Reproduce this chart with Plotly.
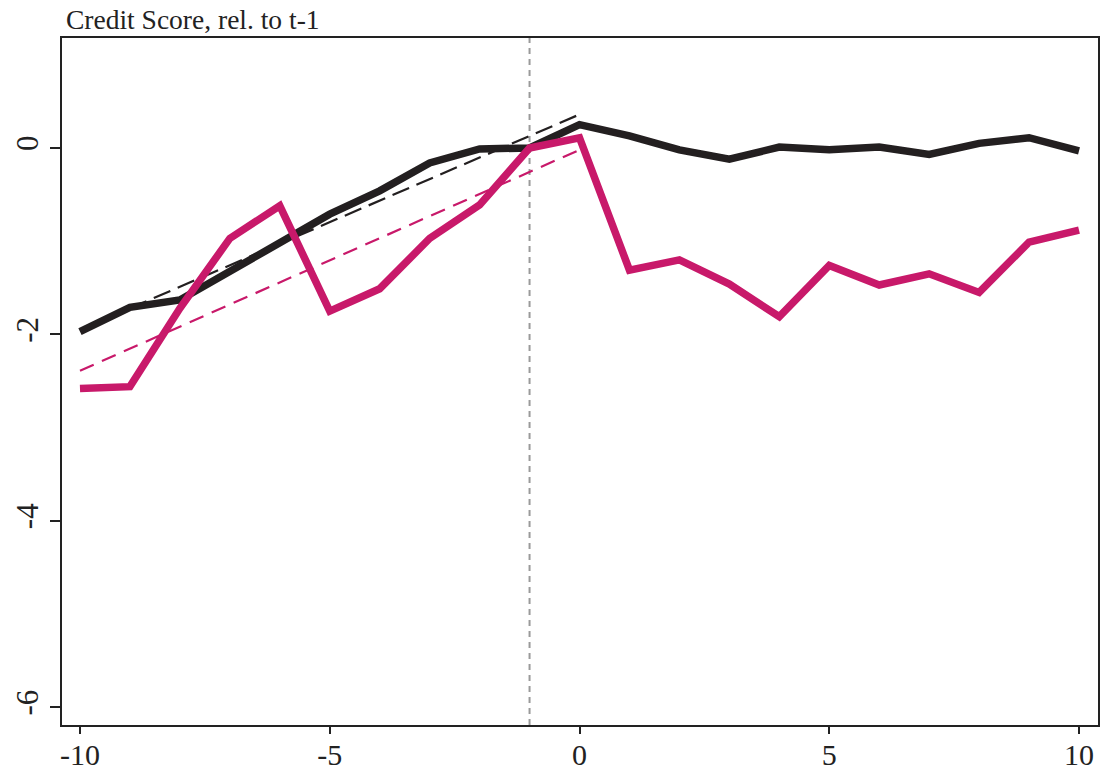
import plotly.graph_objects as go

# Event time
t = [-10, -9, -8, -7, -6, -5, -4, -3, -2, -1, 0, 1, 2, 3, 4, 5, 6, 7, 8, 9, 10]

# Series values (credit score relative to t-1)
black_vals = [-1.97, -1.71, -1.63, -1.32, -1.00, -0.71, -0.46, -0.16, -0.01, 0.00,
              0.25, 0.13, -0.02, -0.12, 0.01, -0.02, 0.01, -0.07, 0.05, 0.11, -0.03]
pink_vals = [-2.58, -2.56, -1.72, -0.97, -0.62, -1.75, -1.51, -0.97, -0.61, 0.00,
             0.11, -1.31, -1.20, -1.46, -1.81, -1.26, -1.47, -1.35, -1.55, -1.01, -0.88]

# Pre-trend lines (endpoints)
black_trend_x = [-9, 0]
black_trend_y = [-1.72, 0.36]
pink_trend_x = [-10, 0]
pink_trend_y = [-2.39, -0.02]

x_ticks = [-10, -5, 0, 5, 10]
x_ticktext = ["-10", "-5", "0", "5", "10"]
y_ticks = [0, -2, -4, -6]
y_ticktext = ["0", "-2", "-4", "-6"]
event_line_x = -1

BLACK = "#231f20"
PINK = "#c8196a"
FONT = "Liberation Serif"

fig = go.Figure()

fig.add_trace(go.Scatter(x=black_trend_x, y=black_trend_y, mode="lines",
                         line=dict(color=BLACK, width=2.2, dash="18px,8px"),
                         showlegend=False, hoverinfo="skip"))
fig.add_trace(go.Scatter(x=pink_trend_x, y=pink_trend_y, mode="lines",
                         line=dict(color=PINK, width=2.2, dash="15px,9px"),
                         showlegend=False, hoverinfo="skip"))
fig.add_trace(go.Scatter(x=t, y=black_vals, mode="lines",
                         line=dict(color=BLACK, width=7.5),
                         showlegend=False))
fig.add_trace(go.Scatter(x=t, y=pink_vals, mode="lines",
                         line=dict(color=PINK, width=7.5),
                         showlegend=False))

fig.add_shape(type="line", x0=event_line_x, x1=event_line_x, xref="x",
              y0=0, y1=1, yref="paper", layer="below",
              line=dict(color="#9a9a9a", width=2, dash="6px,5px"))

fig.add_annotation(text="Credit Score, rel. to t-1", xref="paper", yref="paper",
                   x=0.002, y=1, xanchor="left", yanchor="bottom", yshift=1,
                   showarrow=False, font=dict(family=FONT, size=27.5, color="#222"))

fig.update_layout(
    width=1106, height=772,
    margin=dict(l=62, r=8, t=38, b=47),
    paper_bgcolor="white", plot_bgcolor="white",
    font=dict(family=FONT, size=30, color="#222"),
    xaxis=dict(range=[-10.36, 10.38], tickvals=x_ticks, ticktext=x_ticktext,
               ticks="outside", automargin=False, ticklabelstandoff=-5,
               ticklen=7, tickwidth=1.5, tickcolor="#222",
               showgrid=False, zeroline=False, showline=True, linecolor="#222",
               linewidth=2, mirror=True, tickfont=dict(family=FONT, size=30)),
    yaxis=dict(range=[-6.19, 1.18], tickvals=y_ticks, ticktext=y_ticktext,
               ticks="outside", automargin=False,
               ticklen=10, tickwidth=1.5, tickcolor="#222", tickangle=-90,
               showgrid=False, zeroline=False, showline=True, linecolor="#222",
               linewidth=2, mirror=True, tickfont=dict(family=FONT, size=31)),
)

fig.write_html("out.html")
